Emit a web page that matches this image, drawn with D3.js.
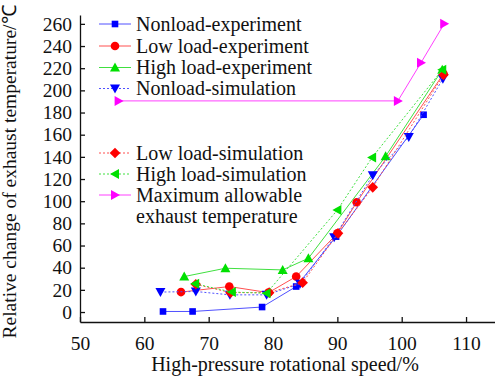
<!DOCTYPE html>
<html lang="en">
<head>
    <meta charset="UTF-8">
    <title>Exhaust temperature vs rotational speed</title>
    <script src="https://d3js.org/d3.v7.min.js"></script>
</head>
<body style="margin:0; background:#fff;">
<script>
    // data
    const xTicks = [50, 60, 70, 80, 90, 100, 110];
    const yTicks = [0, 20, 40, 60, 80, 100, 120, 140, 160, 180, 200, 220, 240, 260];

    const nonloadExp = [[62.9, 0.5], [67.5, 0.5], [78.3, 4.5], [83.6, 23], [89.8, 68], [103.4, 178]];
    const lowExp = [[65.7, 18], [73.2, 23], [79.3, 17.5], [83.6, 32], [90.0, 71], [93.0, 99], [106.5, 215]];
    const highExp = [[66.2, 32], [72.6, 39.5], [81.5, 38], [85.5, 48.5], [97.5, 140.5], [106.3, 218.5]];
    const nonloadSim = [[62.5, 18], [68.0, 18.5], [73.3, 15.5], [79.0, 15.5], [84.2, 25.5], [89.5, 67.5], [95.5, 123.5], [101.1, 158], [106.4, 210.5]];
    const lowSim = [[68.0, 25], [73.4, 17.5], [79.4, 17.5], [84.6, 26.5], [90.1, 71], [95.5, 112.5], [106.5, 214]];
    const highSim = [[67.9, 25.5], [73.6, 18], [79.0, 17], [90.0, 92], [95.4, 139.5], [106.3, 218.5]];
    const maxAllowed = [[56.0, 190.5], [99.4, 190.5], [103.0, 225], [106.6, 260]];

    const series = [
        { name: 'Nonload-experiment', data: nonloadExp, color: '#0000ff', line: '#5050ff', dash: null, sym: 'square' },
        { name: 'Low load-experiment', data: lowExp, color: '#ff0000', line: '#ff5050', dash: null, sym: 'circle' },
        { name: 'High load-experiment', data: highExp, color: '#00e000', line: '#40e040', dash: null, sym: 'up' },
        { name: 'Nonload-simulation', data: nonloadSim, color: '#0000ff', line: '#5050ff', dash: '2,2', sym: 'down' },
        { name: 'Low load-simulation', data: lowSim, color: '#ff0000', line: '#ff5050', dash: '2,2', sym: 'diamond' },
        { name: 'High load-simulation', data: highSim, color: '#00e000', line: '#40e040', dash: '2,2', sym: 'left' },
        { name: ['Maximum allowable', 'exhaust temperature'], data: maxAllowed, color: '#ff00ff', line: '#ff40ff', dash: null, sym: 'right' }
    ];

    const serif = "'Liberation Serif'";

    const svg = d3.select('body').append('svg')
        .attr('width', 495)
        .attr('height', 378);

    const x = d3.scaleLinear().domain([50, 114.5]).range([80, 495]);
    const y = d3.scaleLinear().domain([-9, 268]).range([322, 15]);

    // marker shapes
    function marker(g, sym, color) {
        const s = 5;
        if (sym === 'square') {
            g.append('rect').attr('x', -3.3).attr('y', -3.3).attr('width', 6.6).attr('height', 6.6).attr('fill', color);
        } else if (sym === 'circle') {
            g.append('circle').attr('r', 4.3).attr('fill', color);
        } else if (sym === 'diamond') {
            g.append('path').attr('d', 'M0,-5.3L5.3,0L0,5.3L-5.3,0Z').attr('fill', color);
        } else {
            const pts = {
                up: [[0, -s], [s, s * 0.8], [-s, s * 0.8]],
                down: [[0, s], [s, -s * 0.8], [-s, -s * 0.8]],
                left: [[-s, 0], [s * 0.8, -s], [s * 0.8, s]],
                right: [[s, 0], [-s * 0.8, -s], [-s * 0.8, s]]
            }[sym];
            g.append('path').attr('d', 'M' + pts.join('L') + 'Z').attr('fill', color);
        }
    }

    function styleAxis(g) {
        g.selectAll('path, line').style('stroke', '#111').style('stroke-width', 1.3);
        g.selectAll('text')
            .style('font-family', serif)
            .style('font-size', '19.5px')
            .style('fill', '#111');
    }

    // axes
    svg.append('g')
        .attr('transform', 'translate(0,322)')
        .call(d3.axisBottom(x).tickValues(xTicks).tickSize(-5).tickSizeOuter(0).tickPadding(14))
        .call(styleAxis);

    svg.append('g')
        .attr('transform', 'translate(80,0)')
        .call(d3.axisLeft(y).tickValues(yTicks).tickSize(-5).tickSizeOuter(0).tickPadding(8))
        .call(styleAxis);

    const line = d3.line()
        .x(d => x(d[0]))
        .y(d => y(d[1]));

    series.forEach(s => {
        svg.append('path')
            .datum(s.data)
            .attr('fill', 'none')
            .attr('stroke', s.line)
            .attr('stroke-width', 1)
            .attr('stroke-dasharray', s.dash)
            .attr('d', line);

        s.data.forEach(d => {
            const g = svg.append('g').attr('transform', `translate(${x(d[0])},${y(d[1])})`);
            marker(g, s.sym, s.color);
        });
    });

    // legend
    const legY = [24, 46, 67.5, 88.5, 153, 174, 195];
    series.forEach((s, i) => {
        const yy = legY[i];
        svg.append('line')
            .attr('x1', 99).attr('x2', 131)
            .attr('y1', yy).attr('y2', yy)
            .attr('stroke', s.line)
            .attr('stroke-dasharray', s.dash);
        marker(svg.append('g').attr('transform', `translate(115,${yy})`), s.sym, s.color);
        const names = Array.isArray(s.name) ? s.name : [s.name];
        names.forEach((n, j) => {
            svg.append('text')
                .attr('x', 136)
                .attr('y', yy + 6.5 + j * 21)
                .style('font-family', serif)
                .style('font-size', '20px')
                .style('fill', '#111')
                .text(n);
        });
    });

    // axis titles
    svg.append('text')
        .attr('x', 285)
        .attr('y', 371)
        .attr('text-anchor', 'middle')
        .style('font-family', serif)
        .style('font-size', '20px')
        .style('fill', '#111')
        .text('High-pressure rotational speed/%');

    svg.append('text')
        .attr('transform', 'rotate(-90)')
        .attr('x', -172)
        .attr('y', 16)
        .attr('text-anchor', 'middle')
        .style('font-family', serif)
        .style('font-size', '19.5px')
        .style('fill', '#111')
        .text('Relative change of exhaust temperature/℃');
</script>
</body>
</html>
